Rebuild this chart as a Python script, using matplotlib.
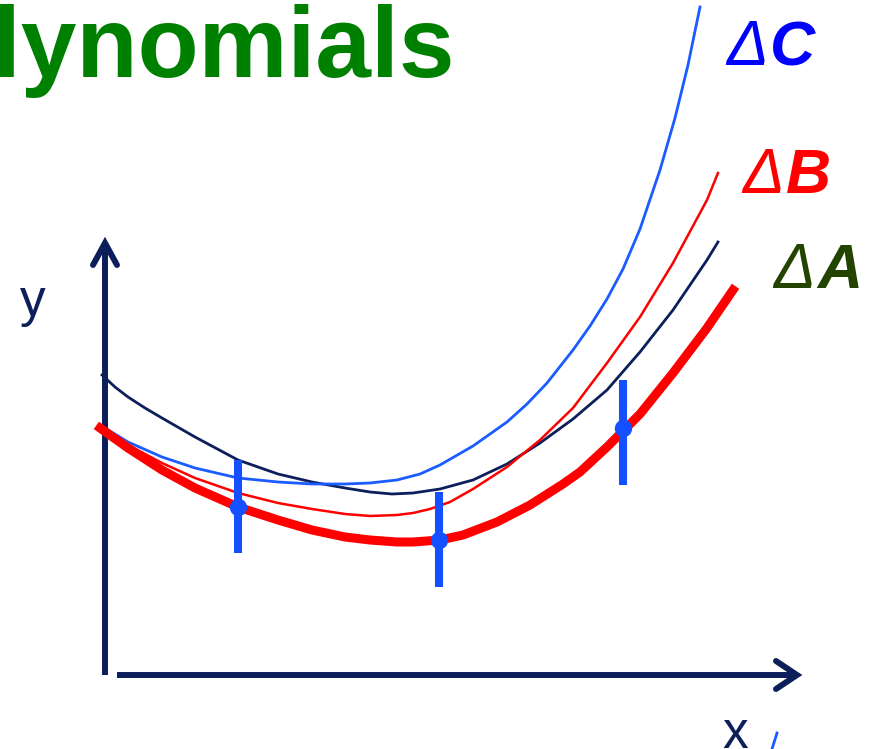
import matplotlib
matplotlib.use("Agg")
import matplotlib.pyplot as plt

# values, in the picture's own units (origin top-left)
thick_red_x = [100, 128, 162, 195, 238, 278, 312, 345, 370, 397, 413, 440, 463,
               497, 530, 563, 580, 607, 640, 673, 707, 733]
thick_red_y = [428, 448, 470, 488, 507, 520, 530, 537, 540, 542, 542, 540, 535,
               522, 505, 484, 472, 447, 414, 373, 328, 290]

thin_red_x = [100, 128, 162, 195, 238, 278, 312, 345, 370, 397, 413, 430, 450,
              473, 507, 540, 573, 607, 640, 673, 707, 718]
thin_red_y = [427, 445, 463, 478, 493, 503, 509, 514, 516, 515, 513, 509, 502,
              489, 467, 440, 408, 363, 317, 263, 200, 173]

navy_x = [102, 115, 128, 145, 162, 195, 238, 278, 312, 345, 370, 392, 413, 440,
          473, 507, 540, 573, 607, 640, 673, 707, 718]
navy_y = [375, 387, 397, 408, 418, 437, 460, 474, 482, 488, 492, 494, 493, 489,
          480, 464, 443, 419, 390, 352, 310, 260, 242]

blue_x = [100, 128, 162, 195, 238, 278, 312, 345, 370, 397, 420, 440, 473,
          507, 527, 547, 573, 590, 607, 623, 640, 660, 675, 688, 700]
blue_y = [425, 442, 457, 468, 478, 482, 484, 484, 483, 480, 474, 465, 446,
          422, 404, 383, 350, 326, 299, 269, 229, 170, 118, 65, 7]

point_x = [238, 439, 623]
point_y = [507, 540, 428]
err_lo = [460, 492, 380]
err_hi = [553, 587, 485]

navy = "#0c1f5a"
blue_bar = "#1450ff"
blue_line = "#1a5cff"
red = "#ff0000"

fig = plt.figure(figsize=(8.81, 7.49), dpi=100)
ax = fig.add_axes([0, 0, 1, 1])
ax.set_xlim(0, 881)
ax.set_ylim(749, 0)
ax.axis("off")

# axes with open arrow heads
ax.plot([105, 105], [675, 244], color=navy, lw=4.3, solid_capstyle="butt")
ax.plot([93, 105, 117], [265, 243, 265], color=navy, lw=4.3,
        solid_capstyle="round", solid_joinstyle="miter")
ax.plot([117, 795], [675, 675], color=navy, lw=4.3, solid_capstyle="butt")
ax.plot([776, 797, 776], [661, 675, 689], color=navy, lw=4.3,
        solid_capstyle="round", solid_joinstyle="miter")

# curves
ax.plot(navy_x, navy_y, color=navy, lw=2.0, solid_joinstyle="round")
ax.plot(blue_x, blue_y, color=blue_line, lw=2.0, solid_joinstyle="round")
ax.plot(thin_red_x, thin_red_y, color=red, lw=1.8, solid_joinstyle="round")
ax.plot(thick_red_x, thick_red_y, color=red, lw=6.5, solid_joinstyle="round")

# data points with error bars
ax.vlines(point_x, err_lo, err_hi, color=blue_bar, lw=5.8)
ax.plot(point_x, point_y, "o", color=blue_bar, ms=11.5)

# texts
ax.text(-7, 77, "lynomials", color="#008000", fontsize=72, fontweight="bold",
        family="Liberation Sans", ha="left", va="baseline")
ax.text(20, 316, "y", color=navy, fontsize=37, family="Liberation Sans",
        ha="left", va="baseline")
ax.text(722, 748, "x", color=navy, fontsize=37, family="Liberation Sans",
        ha="left", va="baseline")
ax.plot([777, 772], [733, 749], color=blue_line, lw=2.0)

labels = [("C", "#0000ff", 726, 65), ("B", red, 742, 193), ("A", "#224400", 773, 288)]
for letter, col, lx, ly in labels:
    ax.text(lx, ly, "\u0394", color=col, fontsize=45, style="italic",
            family="Liberation Sans", ha="left", va="baseline")
    ax.text(lx + 44, ly, letter, color=col, fontsize=45, style="italic",
            fontweight="bold", family="Liberation Sans", ha="left", va="baseline")

fig.savefig("out.png", dpi=100)
